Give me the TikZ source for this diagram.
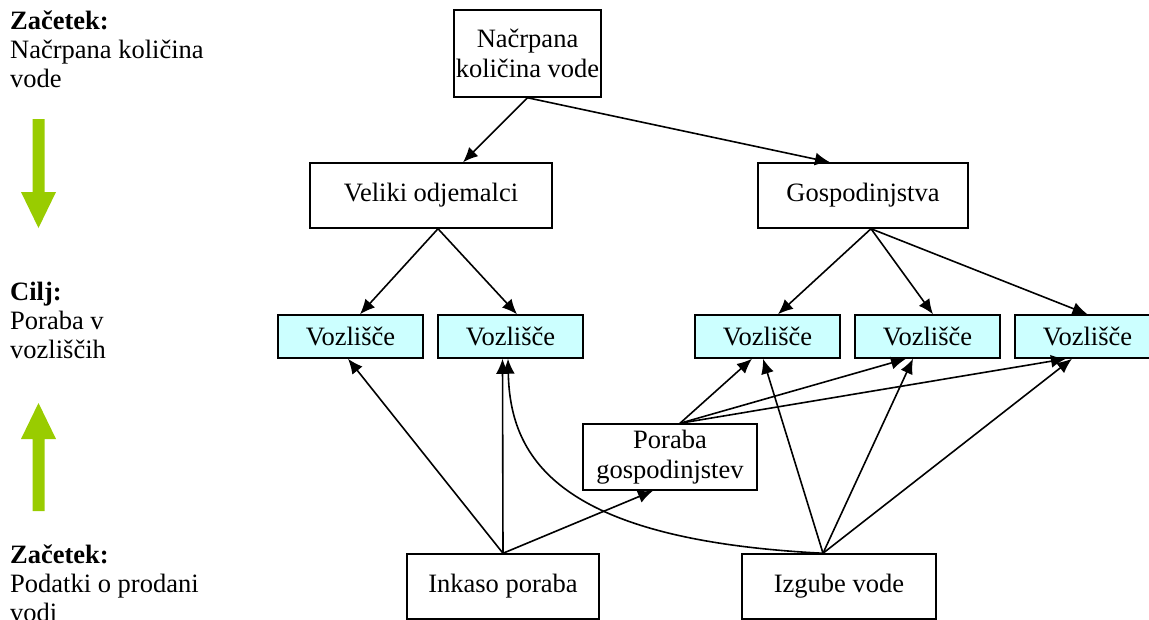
\documentclass[tikz,border=0pt]{standalone}
\usepackage{fontspec}
\setmainfont{Liberation Serif}
\usetikzlibrary{arrows.meta}

\definecolor{nodecyan}{RGB}{204,255,255}
\definecolor{arrowgreen}{RGB}{153,204,0}

\begin{document}
\begin{tikzpicture}[x=1pt, y=-1pt,
  font=\fontsize{26.5}{30}\selectfont,
  box/.style={draw, line width=1.5pt, align=center, inner sep=0pt},
  vozel/.style={box, fill=nodecyan, minimum width=145, minimum height=43},
  lbl/.style={anchor=base west, align=left, inner sep=0pt, font=\fontsize{26.5}{29}\selectfont},
  flow/.style={-{Latex[length=15pt,width=13pt]}, line width=1.6pt}]
  \path[use as bounding box, clip] (0,0) rectangle (1149,619);

  % Legend on the left (anchored at the last line)
  \node[lbl] (zac1) at (10,87) {\textbf{Začetek:}\\Načrpana količina\\vode};
  \node[lbl] (cilj) at (10,358) {\textbf{Cilj:}\\Poraba v\\vozliščih};
  \node[lbl] (zac2) at (10,621) {\textbf{Začetek:}\\Podatki o prodani\\vodi};
  \fill[arrowgreen] (32.5,119) -- (44.5,119) -- (44.5,192) -- (56,192)
    -- (38.5,228) -- (21,192) -- (32.5,192) -- cycle;
  \fill[arrowgreen] (38.5,403) -- (56,439) -- (44.5,439) -- (44.5,511)
    -- (32.5,511) -- (32.5,439) -- (21,439) -- cycle;

  % Boxes
  \node[box, minimum width=147, minimum height=87] (pump) at (527.5,53.5) {Načrpana\\količina vode};
  \node[box, minimum width=242, minimum height=65] (big) at (431,195.5) {Veliki odjemalci};
  \node[box, minimum width=210, minimum height=65] (gosp) at (863,195.5) {Gospodinjstva};

  \node[vozel] (v1) at (350.5,336.5) {Vozlišče};
  \node[vozel] (v2) at (510.5,336.5) {Vozlišče};
  \node[vozel] (v3) at (767.5,336.5) {Vozlišče};
  \node[vozel] (v4) at (927.5,336.5) {Vozlišče};
  \node[vozel] (v5) at (1087.5,336.5) {Vozlišče};

  \node[box, minimum width=174, minimum height=66] (porgosp) at (670,457) {Poraba\\gospodinjstev};
  \node[box, minimum width=192, minimum height=65] (inkaso) at (503,586.5) {Inkaso poraba};
  \node[box, minimum width=194, minimum height=65] (izgube) at (839,586.5) {Izgube vode};

  % Top-down split
  \draw[flow] (pump.south) -- ([xshift=32]big.north);
  \draw[flow] (pump.south) -- ([xshift=-33]gosp.north);
  \draw[flow] ([xshift=7]big.south) -- ([xshift=9.5]v1.north);
  \draw[flow] ([xshift=7]big.south) -- ([xshift=6.5]v2.north);
  \draw[flow] ([xshift=8]gosp.south) -- ([xshift=10.5]v3.north);
  \draw[flow] ([xshift=8]gosp.south) -- ([xshift=5.5]v4.north);
  \draw[flow] ([xshift=8]gosp.south) -- (v5.north);

  % Bottom-up from sold water
  \draw[flow] (inkaso.north) -- ([xshift=-2.5]v1.south);
  \draw[flow] (inkaso.north) -- ([xshift=-8]v2.south);
  \draw[flow] (inkaso.north) -- ([xshift=-17]porgosp.south);
  \draw[flow] ([xshift=10]porgosp.north) -- ([xshift=-15.5]v3.south);
  \draw[flow] ([xshift=10]porgosp.north) -- ([xshift=-21.5]v4.south);
  \draw[flow] ([xshift=10]porgosp.north) -- ([xshift=-21.5]v5.south);

  % Losses
  \draw[flow] ([xshift=-16]izgube.north) .. controls (560,540) and (510,460) .. ([xshift=-2.5]v2.south);
  \draw[flow] ([xshift=-16]izgube.north) -- ([xshift=-4.5]v3.south);
  \draw[flow] ([xshift=-16]izgube.north) -- ([xshift=-14.5]v4.south);
  \draw[flow] ([xshift=-16]izgube.north) -- ([xshift=-15.5]v5.south);
\end{tikzpicture}
\end{document}
